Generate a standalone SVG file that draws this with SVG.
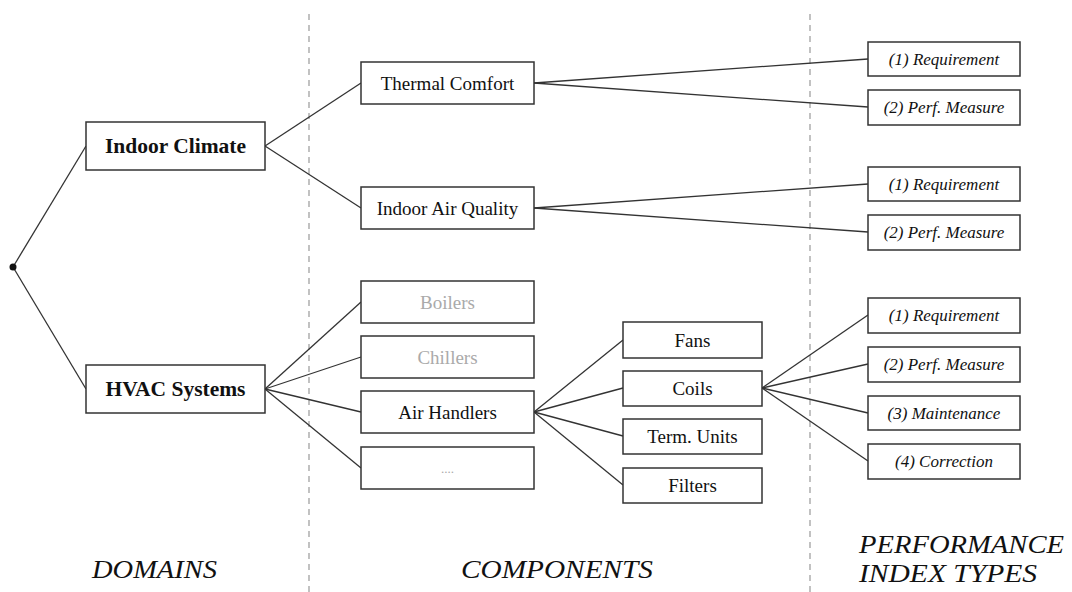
<svg xmlns="http://www.w3.org/2000/svg" width="1072" height="592" viewBox="0 0 1072 592">
<style>
.box{fill:#fff;stroke:#333;stroke-width:1.5}
.t{font-family:"Liberation Serif",serif;text-anchor:middle;fill:#111}
.dom{font-size:21.5px;font-weight:bold}
.comp{font-size:19px}
.gray{fill:#aaa}
.pi{font-size:17px;font-style:italic}
.lab{font-family:"Liberation Serif",serif;font-style:italic;font-size:25.5px;fill:#111}
.c line{stroke:#333;stroke-width:1.3}
.sep{stroke:#999;stroke-width:1.2;stroke-dasharray:6,5}
</style>
<rect width="1072" height="592" fill="#fff"/>
<line class="sep" x1="309" y1="14" x2="309" y2="592"/>
<line class="sep" x1="810" y1="14" x2="810" y2="592"/>
<g class="c" id="connectors">
<line x1="13" y1="267" x2="86" y2="146"/>
<line x1="13" y1="267" x2="86" y2="389"/>
<line x1="265" y1="146" x2="361" y2="83"/>
<line x1="265" y1="146" x2="361" y2="208"/>
<line x1="265" y1="389" x2="361" y2="302"/>
<line x1="265" y1="389" x2="361" y2="357"/>
<line x1="265" y1="389" x2="361" y2="412"/>
<line x1="265" y1="389" x2="361" y2="468"/>
<line x1="534" y1="412" x2="623" y2="340"/>
<line x1="534" y1="412" x2="623" y2="388"/>
<line x1="534" y1="412" x2="623" y2="436"/>
<line x1="534" y1="412" x2="623" y2="485"/>
<line x1="534" y1="83" x2="868" y2="59"/>
<line x1="534" y1="83" x2="868" y2="107"/>
<line x1="534" y1="208" x2="868" y2="184"/>
<line x1="534" y1="208" x2="868" y2="232"/>
<line x1="762" y1="388" x2="868" y2="315"/>
<line x1="762" y1="388" x2="868" y2="364"/>
<line x1="762" y1="388" x2="868" y2="413"/>
<line x1="762" y1="388" x2="868" y2="461"/>
<circle cx="13" cy="267" r="3.5" fill="#111" stroke="none"/>
</g>
<g id="indoor-climate"><rect class="box" x="86" y="122" width="179" height="48"/><text class="t dom" x="175.5" y="153">Indoor Climate</text></g>
<g id="hvac"><rect class="box" x="86" y="365" width="179" height="48"/><text class="t dom" x="175.5" y="396">HVAC Systems</text></g>
<g id="thermal-comfort"><rect class="box" x="361" y="62" width="173" height="42"/><text class="t comp" x="447.5" y="89.5">Thermal Comfort</text></g>
<g id="iaq"><rect class="box" x="361" y="187" width="173" height="42"/><text class="t comp" x="447.5" y="214.5">Indoor Air Quality</text></g>
<g id="boilers"><rect class="box" x="361" y="281" width="173" height="42"/><text class="t comp gray" x="447.5" y="308.5">Boilers</text></g>
<g id="chillers"><rect class="box" x="361" y="336" width="173" height="42"/><text class="t comp gray" x="447.5" y="363.5">Chillers</text></g>
<g id="air-handlers"><rect class="box" x="361" y="391" width="173" height="42"/><text class="t comp" x="447.5" y="418.5">Air Handlers</text></g>
<g id="more"><rect class="box" x="361" y="447" width="173" height="42"/><text class="t gray" x="447.5" y="473" font-size="13">....</text></g>
<g id="fans"><rect class="box" x="623" y="322" width="139" height="36"/><text class="t comp" x="692.5" y="346.5">Fans</text></g>
<g id="coils"><rect class="box" x="623" y="371" width="139" height="35"/><text class="t comp" x="692.5" y="395">Coils</text></g>
<g id="term-units"><rect class="box" x="623" y="419" width="139" height="35"/><text class="t comp" x="692.5" y="443">Term. Units</text></g>
<g id="filters"><rect class="box" x="623" y="468" width="139" height="35"/><text class="t comp" x="692.5" y="492">Filters</text></g>
<g id="tc-req"><rect class="box" x="868" y="42" width="152" height="34"/><text class="t pi" x="944" y="64.5">(1) Requirement</text></g>
<g id="tc-perf"><rect class="box" x="868" y="90" width="152" height="35"/><text class="t pi" x="944" y="113">(2) Perf. Measure</text></g>
<g id="iaq-req"><rect class="box" x="868" y="167" width="152" height="34"/><text class="t pi" x="944" y="189.5">(1) Requirement</text></g>
<g id="iaq-perf"><rect class="box" x="868" y="215" width="152" height="35"/><text class="t pi" x="944" y="238">(2) Perf. Measure</text></g>
<g id="coils-req"><rect class="box" x="868" y="298" width="152" height="35"/><text class="t pi" x="944" y="321">(1) Requirement</text></g>
<g id="coils-perf"><rect class="box" x="868" y="347" width="152" height="35"/><text class="t pi" x="944" y="370">(2) Perf. Measure</text></g>
<g id="coils-maint"><rect class="box" x="868" y="396" width="152" height="34"/><text class="t pi" x="944" y="418.5">(3) Maintenance</text></g>
<g id="coils-corr"><rect class="box" x="868" y="444" width="152" height="35"/><text class="t pi" x="944" y="467">(4) Correction</text></g>
<g id="labels">
<text class="lab" x="92" y="578" textLength="125" lengthAdjust="spacingAndGlyphs">DOMAINS</text>
<text class="lab" x="461" y="578" textLength="192" lengthAdjust="spacingAndGlyphs">COMPONENTS</text>
<text class="lab" x="859" y="553" textLength="205" lengthAdjust="spacingAndGlyphs">PERFORMANCE</text>
<text class="lab" x="859" y="582" textLength="178" lengthAdjust="spacingAndGlyphs">INDEX TYPES</text>
</g>
</svg>
